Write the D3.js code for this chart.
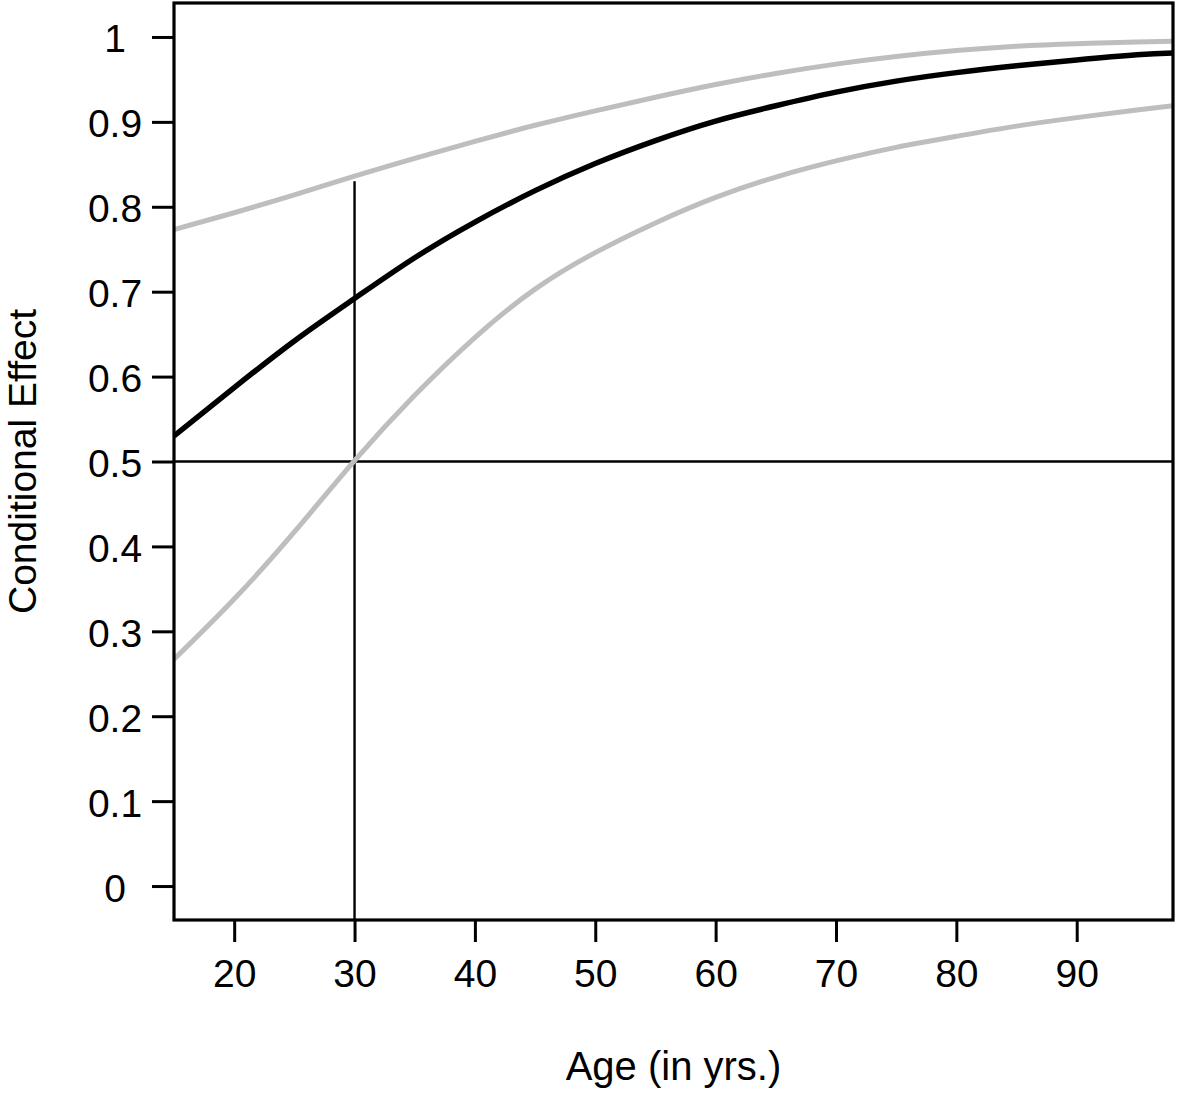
<!DOCTYPE html>
<html>
<head>
<meta charset="utf-8">
<script src="https://cdn.jsdelivr.net/npm/d3@7"></script>
<style>
  html, body { margin: 0; padding: 0; background: #fff; }
  svg { display: block; }
  text { font-family: "Liberation Sans", Arial, sans-serif; fill: #000; }
</style>
</head>
<body>
<script>
// ---- data ----
const ages = [15, 20, 25, 30, 35, 40, 45, 50, 55, 60, 65, 70, 75, 80, 85, 90, 95, 98];
const effect = [0.530, 0.587, 0.642, 0.692, 0.740, 0.782, 0.819, 0.851, 0.878, 0.901, 0.919, 0.935, 0.948, 0.958, 0.966, 0.973, 0.979, 0.981];
const upper  = [0.773, 0.793, 0.814, 0.836, 0.857, 0.877, 0.896, 0.913, 0.929, 0.944, 0.957, 0.968, 0.977, 0.984, 0.989, 0.992, 0.994, 0.995];
const lower  = [0.267, 0.338, 0.417, 0.501, 0.578, 0.646, 0.703, 0.746, 0.781, 0.811, 0.835, 0.854, 0.870, 0.883, 0.895, 0.905, 0.914, 0.919];
const xTicks = [20, 30, 40, 50, 60, 70, 80, 90];
const yTicks = [0, 0.1, 0.2, 0.3, 0.4, 0.5, 0.6, 0.7, 0.8, 0.9, 1];
const yTickLabels = ["0", "0.1", "0.2", "0.3", "0.4", "0.5", "0.6", "0.7", "0.8", "0.9", "1"];
const refAge = 30;        // vertical reference line
const refAgeTop = 0.83;   // its top end
const refEffect = 0.5;    // horizontal reference line
const xTitle = "Age (in yrs.)";
const yTitle = "Conditional Effect";

// ---- layout ----
const W = 1179, H = 1094;
const pLeft = 174, pRight = 1173, pTop = 3, pBottom = 920;
const FONT = '"Liberation Sans", Arial, sans-serif';

const svg = d3.select("body").append("svg").attr("width", W).attr("height", H);

const x = d3.scaleLinear().domain([15, 98]).range([pLeft, pRight]);
const y = d3.scaleLinear().domain([-0.04, 1.04]).range([pBottom, pTop]);

svg.append("defs").append("clipPath").attr("id", "clip")
  .append("rect").attr("x", pLeft).attr("y", pTop).attr("width", pRight - pLeft).attr("height", pBottom - pTop);

const plot = svg.append("g").attr("clip-path", "url(#clip)");

const line = d3.line().x(d => x(d[0])).y(d => y(d[1])).curve(d3.curveNatural);

// reference lines
plot.append("line")
  .attr("x1", pLeft).attr("x2", pRight)
  .attr("y1", y(refEffect)).attr("y2", y(refEffect))
  .attr("stroke", "#000").attr("stroke-width", 2.4);
plot.append("line")
  .attr("x1", x(refAge)).attr("x2", x(refAge))
  .attr("y1", pBottom).attr("y2", y(refAgeTop))
  .attr("stroke", "#000").attr("stroke-width", 2.4);

// confidence bounds
[upper, lower].forEach(s => {
  plot.append("path")
    .datum(ages.map((a, i) => [a, s[i]]))
    .attr("d", line)
    .attr("fill", "none").attr("stroke", "#bebebe").attr("stroke-width", 5);
});
// effect
plot.append("path")
  .datum(ages.map((a, i) => [a, effect[i]]))
  .attr("d", line)
  .attr("fill", "none").attr("stroke", "#000").attr("stroke-width", 5.5);

// axes
const yAxis = d3.axisLeft(y).tickValues(yTicks).tickSize(22).tickPadding(0)
  .tickFormat((d, i) => yTickLabels[i]);
const gy = svg.append("g").attr("transform", `translate(${pLeft},0)`).call(yAxis);
gy.select(".domain").remove();
gy.selectAll(".tick line").attr("stroke", "#000").attr("stroke-width", 3);
gy.selectAll(".tick text")
  .attr("x", 115 - pLeft).attr("dy", null).attr("y", 15)
  .attr("text-anchor", "middle")
  .style("font-size", "39px").style("font-family", FONT).attr("fill", "#000");

const xAxis = d3.axisBottom(x).tickValues(xTicks).tickSize(22).tickPadding(0);
const gx = svg.append("g").attr("transform", `translate(0,${pBottom})`).call(xAxis);
gx.select(".domain").remove();
gx.selectAll(".tick line").attr("stroke", "#000").attr("stroke-width", 3);
gx.selectAll(".tick text")
  .attr("dy", null).attr("y", 67)
  .style("font-size", "39px").style("font-family", FONT).attr("fill", "#000");

// frame
svg.append("rect")
  .attr("x", pLeft).attr("y", pTop).attr("width", pRight - pLeft).attr("height", pBottom - pTop)
  .attr("fill", "none").attr("stroke", "#000").attr("stroke-width", 3.2);

// titles
svg.append("text")
  .attr("x", (pLeft + pRight) / 2).attr("y", 1080)
  .attr("text-anchor", "middle").style("font-size", "40px").style("font-family", FONT)
  .text(xTitle);
svg.append("text")
  .attr("transform", `translate(36,${(pTop + pBottom) / 2}) rotate(-90)`)
  .attr("text-anchor", "middle").style("font-size", "39px").style("font-family", FONT)
  .text(yTitle);
</script>
</body>
</html>
